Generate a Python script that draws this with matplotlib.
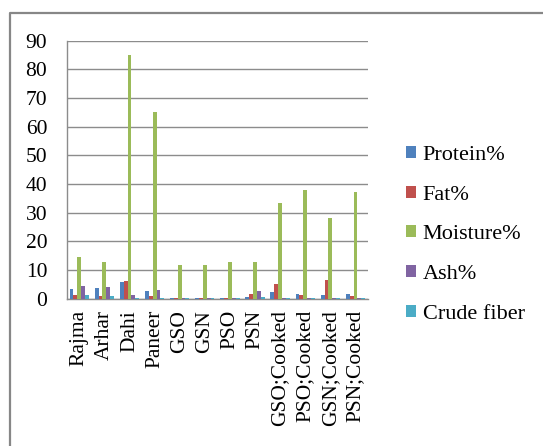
import numpy as np
import matplotlib
matplotlib.use("Agg")
import matplotlib.pyplot as plt
from matplotlib.lines import Line2D

plt.rcParams['font.family'] = ['Liberation Serif', 'DejaVu Serif']

# Proximate composition per sample
samples = ['Rajma', 'Arhar', 'Dahi', 'Paneer', 'GSO', 'GSN', 'PSO', 'PSN',
           'GSO;Cooked', 'PSO;Cooked', 'GSN;Cooked', 'PSN;Cooked']
protein = [3.3, 3.6, 5.7, 2.8, 0.3, 0.3, 0.3, 0.5, 2.2, 1.7, 1.3, 1.7]
fat = [1.4, 0.9, 6.2, 0.9, 0.3, 0.3, 0.3, 1.7, 5.1, 1.3, 6.5, 0.8]
moisture = [14.4, 12.8, 85.0, 65.0, 11.9, 11.9, 12.8, 12.8, 33.2, 38.0, 28.1, 37.3]
ash = [4.4, 4.0, 1.4, 3.1, 0.3, 0.3, 0.3, 2.7, 0.3, 0.3, 0.3, 0.3]
crude_fiber = [1.4, 0.9, 0.1, 0.1, 0.3, 0.3, 0.3, 0.5, 0.3, 0.3, 0.3, 0.3]

series = [
    ('Protein%', protein, '#4F81BD'),
    ('Fat%', fat, '#C0504D'),
    ('Moisture%', moisture, '#9BBB59'),
    ('Ash%', ash, '#8064A2'),
    ('Crude fiber', crude_fiber, '#4BACC6'),
]

FS = 15.5
GRID = '#8c8c8c'
W, H = 543, 446

fig = plt.figure(figsize=(W / 100, H / 100), dpi=100)
ax = fig.add_axes([66.7 / W, 1 - 298.7 / H, (368 - 66.7) / W, (298.7 - 40.5) / H])

x = np.arange(len(samples))
bw = 1 / 6.5
for j, (name, vals, col) in enumerate(series):
    ax.bar(x + (j - 2) * bw, vals, width=bw, color=col, label=name, zorder=3)

ax.set_xlim(-0.5, len(samples) - 0.5)
ax.set_ylim(0, 90)
ax.set_yticks(range(0, 91, 10))
ax.set_xticks(x)
ax.set_xticklabels(samples, rotation=90, fontsize=FS)
ax.tick_params(axis='y', length=0, pad=14, labelsize=FS)
ax.tick_params(axis='x', length=0, pad=8)
ax.yaxis.grid(True, color=GRID, linewidth=1.0, zorder=0)
ax.set_axisbelow(True)
for side in ['top', 'right']:
    ax.spines[side].set_visible(False)
for side in ['left', 'bottom']:
    ax.spines[side].set_color(GRID)
    ax.spines[side].set_linewidth(1.0)

leg = fig.legend(loc='upper left', bbox_to_anchor=(406 / W, 1 - 146 / H),
                 frameon=False, fontsize=16, handlelength=0.45, handleheight=0.45,
                 handletextpad=0.3, labelspacing=0.93, borderaxespad=0, borderpad=0)

# outer chart border
x0, y0 = 9.5 / W, 1 - 12.5 / H
fig.add_artist(Line2D([x0, x0, 1.01], [-0.01, y0, y0], transform=fig.transFigure,
                      color='#878787', linewidth=1.6))

fig.savefig('out.png', dpi=100, facecolor='white')
